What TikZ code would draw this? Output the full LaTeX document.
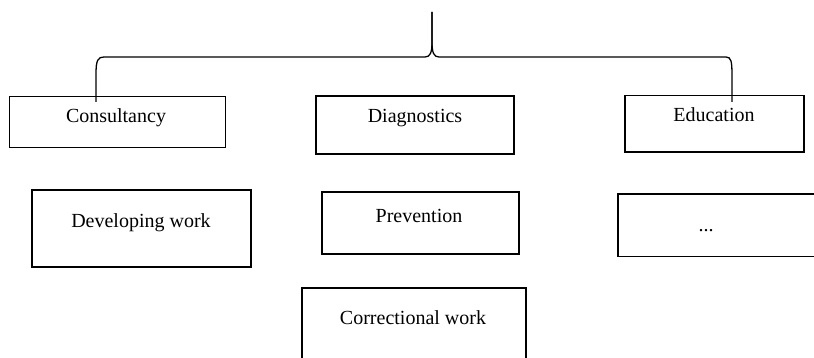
\documentclass[tikz,border=0pt]{standalone}
\usepackage{fontspec}
\setmainfont{Liberation Serif}
\usetikzlibrary{calc}

\tikzset{
  box/.style={draw=black, line width=1.2pt, rectangle, inner sep=0pt, outer sep=0pt},
  lbl/.style={anchor=base, inner sep=0pt, font=\fontsize{20}{24}\selectfont},
  brace/.style={draw=black, line width=1.3pt, line join=round}
}

\begin{document}
\begin{tikzpicture}[x=1pt, y=-1pt]
  \useasboundingbox (0,0) rectangle (814,358);
  \clip (0,0) rectangle (814,358);

  % top row of boxes
  \node[box, minimum width=216pt, minimum height=51pt] (cons) at (117.5,122) {};
  \node[box, minimum width=198pt, minimum height=58pt] (diag) at (415,125) {};
  \node[box, minimum width=179pt, minimum height=56.5pt] (edu) at (714.5,123.75) {};

  % second row of boxes
  \node[box, minimum width=219pt, minimum height=77pt] (dev) at (141.5,228.5) {};
  \node[box, minimum width=197pt, minimum height=62pt] (prev) at (420.5,223) {};
  \node[box, minimum width=212pt, minimum height=62.5pt] (more) at (724,225.25) {};

  % third row
  \node[box, minimum width=224pt, minimum height=92pt] (corr) at (414,334) {};

  % texts
  \node[lbl] (consT) at (116,122.3) {Consultancy};
  \node[lbl] (diagT) at (415,122.3) {Diagnostics};
  \node[lbl] (eduT) at (714,122) {Education};
  \node[lbl] (devT) at (141,227.7) {Developing work};
  \node[lbl] (prevT) at (419,222.7) {Prevention};
  \node[lbl] (moreT) at (706,232) {...};
  \node[lbl] (corrT) at (413,324) {Correctional work};

  % brace joining the top row
  \coordinate (root) at (432,12);
  \coordinate (lend) at ($(cons.north west)+(86.5,5.5)$);
  \coordinate (rend) at ($(edu.north west)+(107,6.5)$);

  \path[brace] (lend) -- (96,74) .. controls (96,60) and (98,57) .. (104,57)
    -- (425,57) .. controls (430,57) and (432,53) .. (432,42) -- (root);
  \path[brace] (root) -- (432,42) .. controls (432,53) and (434,57) .. (439,57)
    -- (726,57) .. controls (731,57) and (732,61) .. (732,75) -- (rend);
\end{tikzpicture}
\end{document}
